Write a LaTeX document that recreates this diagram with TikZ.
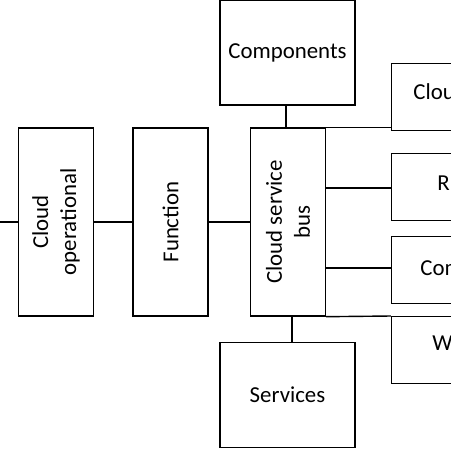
\documentclass[tikz,border=0pt]{standalone}
\usepackage{fontspec}
\setmainfont{Carlito}
\usetikzlibrary{positioning}
\begin{document}
\begin{tikzpicture}[x=0.02cm,y=-0.02cm,
    block/.style={rectangle, draw, thick, inner sep=0pt, align=center, font=\fontsize{13}{16}\selectfont},
    vblock/.style={block, minimum width=1.5cm, minimum height=3.76cm},
    hblock/.style={block, minimum width=2.7cm, minimum height=2.1cm},
    sblock/.style={block, minimum width=2.4cm, minimum height=1.34cm},
    link/.style={thick}
]
\useasboundingbox (0,0) rectangle (451,451);
\clip (0,0) rectangle (451,451);

\node[vblock] (oper) at (56,222) {};
\node[rotate=90, font=\fontsize{13}{16}\selectfont, align=center] at (oper) {Cloud\\operational};
\node[vblock] (func) at (170.5,222) {};
\node[rotate=90, font=\fontsize{13}{16}\selectfont] at (func) {Function};
\node[vblock] (bus) at (288,222) {};
\node[rotate=90, font=\fontsize{13}{16}\selectfont, align=center] at (bus) {Cloud service\\bus};

\node[hblock] (comp) at (287.5,52.5) {Components};
\node[hblock] (serv) at (287.5,395) {Services};

\node[sblock, anchor=north west] (cloudr) at (391,63) {};
\node[sblock, anchor=north west] (rr) at (391,153) {};
\node[sblock, anchor=north west] (comr) at (391,236) {};
\node[sblock, anchor=north west] (wr) at (391,316) {};
\node[anchor=west, inner sep=0pt, font=\fontsize{13}{16}\selectfont] at (413,92) {Clou};
\node[anchor=west, inner sep=0pt, font=\fontsize{13}{16}\selectfont] at (437,183) {R};
\node[anchor=west, inner sep=0pt, font=\fontsize{13}{16}\selectfont] at (420,268) {Com};
\node[anchor=west, inner sep=0pt, font=\fontsize{13}{16}\selectfont] at (432,343) {W-};

\coordinate (in) at (0,222);
\draw[link] (in) -- (oper.west);
\draw[link] (oper) -- (func);
\draw[link] (func) -- (bus);
\draw[link] (comp.south -| 286,0) -- (bus.north -| 286,0);
\draw[link] (serv.north -| 292,0) -- (bus.south -| 292,0);
\draw[link] (bus.north east) -- (cloudr.south west |- bus.north);
\draw[link] (bus.east |- 0,188) -- (rr.west |- 0,188);
\draw[link] (bus.east |- 0,268) -- (comr.west |- 0,268);
\draw[link] (bus.south east) -- (wr.north west);
\end{tikzpicture}
\end{document}
